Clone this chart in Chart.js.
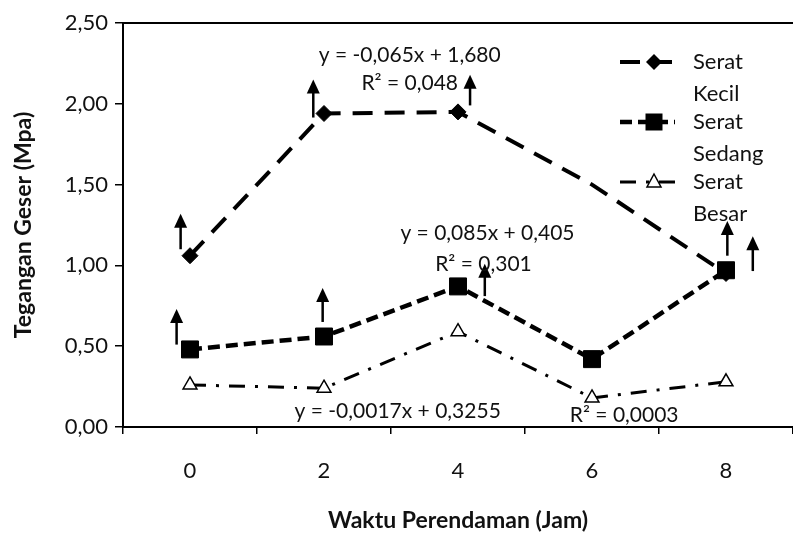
<!DOCTYPE html>
<html>
<head>
<meta charset="utf-8">
<script src="https://cdn.jsdelivr.net/npm/chart.js"></script>
<style>
  body { margin: 0; background: #fff; }
</style>
</head>
<body>
<canvas id="chart" width="793" height="537"></canvas>
<script>
// data
const waktu = ['0', '2', '4', '6', '8'];
const seratKecil = [1.06, 1.94, 1.95, 1.50, 0.95];
const seratSedang = [0.48, 0.56, 0.87, 0.42, 0.97];
const seratBesar = [0.26, 0.24, 0.59, 0.18, 0.28];
const yTickLabels = ['0,00', '0,50', '1,00', '1,50', '2,00', '2,50'];

const seriesNames = [['Serat', 'Kecil'], ['Serat', 'Sedang'], ['Serat', 'Besar']];

// trendline equations: [text, category position, value]
const trendTexts = [
  ['y = -0,065x + 1,680', 1.64, 2.30],
  ['R\u00b2 = 0,048', 1.64, 2.13],
  ['y = 0,085x + 0,405', 2.22, 1.20],
  ['R\u00b2 = 0,301', 2.19, 1.01],
  ['y = -0,0017x + 0,3255', 1.55, 0.10],
  ['R\u00b2 = 0,0003', 3.24, 0.07],
];

// hand drawn arrows: [category position, from value, tip value]
const arrows = [
  [-0.07, 1.10, 1.32],
  [0.92, 1.915, 2.15],
  [2.09, 1.99, 2.18],
  [-0.10, 0.51, 0.73],
  [0.99, 0.65, 0.86],
  [2.20, 0.81, 1.01],
  [4.01, 1.06, 1.275],
  [4.20, 0.965, 1.18],
];

Chart.defaults.font.family = 'Lato, "Open Sans", sans-serif';
Chart.defaults.color = '#111';

function drawMarker(ctx, style, x, y) {
  ctx.save();
  ctx.fillStyle = '#000';
  ctx.strokeStyle = '#000';
  ctx.lineWidth = 1.5;
  ctx.setLineDash([]);
  ctx.beginPath();
  if (style === 'rectRot') {
    ctx.moveTo(x - 8, y); ctx.lineTo(x, y - 8); ctx.lineTo(x + 8, y); ctx.lineTo(x, y + 8);
    ctx.closePath(); ctx.fill();
  } else if (style === 'rect') {
    ctx.rect(x - 8.5, y - 8.5, 17, 17); ctx.fill();
  } else {
    ctx.moveTo(x, y - 8); ctx.lineTo(x + 7, y + 5); ctx.lineTo(x - 7, y + 5);
    ctx.closePath(); ctx.fillStyle = '#fff'; ctx.fill(); ctx.stroke();
  }
  ctx.restore();
}

const extras = {
  id: 'extras',
  afterDatasetsDraw(chart) {
    const ctx = chart.ctx;
    const xs = chart.scales.x;
    const ys = chart.scales.y;
    const area = chart.chartArea;

    // top frame line
    ctx.save();
    ctx.strokeStyle = '#000';
    ctx.lineWidth = 2;
    ctx.beginPath();
    ctx.moveTo(area.left, area.top);
    ctx.lineTo(area.right, area.top);
    ctx.stroke();

    // arrows
    arrows.forEach(a => {
      const x = xs.getPixelForValue(a[0]);
      const y0 = ys.getPixelForValue(a[1]);
      const y1 = ys.getPixelForValue(a[2]);
      ctx.lineWidth = 2.5;
      ctx.beginPath();
      ctx.moveTo(x, y0);
      ctx.lineTo(x, y1 + 10);
      ctx.stroke();
      ctx.beginPath();
      ctx.moveTo(x, y1);
      ctx.lineTo(x + 6.5, y1 + 14);
      ctx.lineTo(x - 6.5, y1 + 14);
      ctx.closePath();
      ctx.fillStyle = '#000';
      ctx.fill();
    });

    // trendline equations
    ctx.font = '21px Lato, "Open Sans", sans-serif';
    ctx.fillStyle = '#111';
    ctx.textAlign = 'center';
    ctx.textBaseline = 'middle';
    trendTexts.forEach(t => {
      ctx.fillText(t[0], xs.getPixelForValue(t[1]), ys.getPixelForValue(t[2]));
    });
    ctx.restore();
  },
  afterDraw(chart) {
    const ctx = chart.ctx;
    const area = chart.chartArea;
    const lx = area.right - 173;
    const ly = area.top + 39;
    ctx.save();
    ctx.font = '22px Lato, "Open Sans", sans-serif';
    ctx.fillStyle = '#111';
    ctx.textBaseline = 'middle';
    chart.data.datasets.forEach((ds, i) => {
      const y = ly + i * 60;
      ctx.strokeStyle = '#000';
      ctx.lineWidth = ds.borderWidth;
      ctx.setLineDash(ds.borderDash);
      ctx.beginPath();
      ctx.moveTo(lx, y);
      ctx.lineTo(lx + 55, y);
      ctx.stroke();
      drawMarker(ctx, ds.pointStyle, lx + 34, y);
      seriesNames[i].forEach((line, j) => {
        ctx.fillText(line, lx + 73, y + j * 32);
      });
    });
    ctx.restore();
  }
};

new Chart(document.getElementById('chart'), {
  type: 'line',
  data: {
    labels: waktu,
    datasets: [
      {
        label: 'Serat Kecil',
        data: seratKecil,
        borderColor: '#000',
        borderWidth: 4,
        borderDash: [20, 12],
        pointStyle: 'rectRot',
        pointRadius: [8, 8, 8, 0, 8],
        pointBackgroundColor: '#000',
        pointBorderColor: '#000',
        pointBorderWidth: 1,
        tension: 0,
        order: 2,
      },
      {
        label: 'Serat Sedang',
        data: seratSedang,
        borderColor: '#000',
        borderWidth: 4.5,
        borderDash: [12, 6],
        pointStyle: 'rect',
        pointRadius: 12,
        pointBackgroundColor: '#000',
        pointBorderColor: '#000',
        pointBorderWidth: 1,
        tension: 0,
        order: 0,
      },
      {
        label: 'Serat Besar',
        data: seratBesar,
        borderColor: '#000',
        borderWidth: 3,
        borderDash: [16, 10, 3, 10],
        pointStyle: 'triangle',
        pointRadius: 8,
        pointBackgroundColor: '#fff',
        pointBorderColor: '#000',
        pointBorderWidth: 1.5,
        tension: 0,
        order: 1,
      },
    ],
  },
  options: {
    responsive: false,
    animation: false,
    layout: { autoPadding: false, padding: { top: 23, right: 0, bottom: 0, left: 0 } },
    plugins: {
      legend: { display: false },
      tooltip: { enabled: false },
    },
    scales: {
      x: {
        offset: true,
        grid: { display: true, offset: true, drawOnChartArea: false, color: '#000', tickLength: 7, lineWidth: 1.5 },
        border: { display: true, color: '#000', width: 2 },
        ticks: { font: { size: 22 }, color: '#111', padding: 24 },
        title: { display: true, text: 'Waktu Perendaman (Jam)', font: { size: 23, weight: 'bold' }, color: '#111', padding: { top: 0, bottom: 3 } },
        afterFit(scale) {
          scale.height = 110;
          scale.paddingLeft = 0;
          scale.paddingRight = 0;
        },
      },
      y: {
        min: 0,
        max: 2.5,
        ticks: {
          stepSize: 0.5,
          font: { size: 22 },
          color: '#111',
          padding: 7,
          callback: (v, i) => yTickLabels[i],
        },
        grid: { display: true, drawOnChartArea: false, color: '#000', tickLength: 8, lineWidth: 1.5 },
        border: { display: true, color: '#000', width: 2 },
        title: { display: true, text: 'Tegangan Geser (Mpa)', font: { size: 23, weight: 'bold' }, color: '#111', padding: { top: 10, bottom: 0 } },
        afterFit(scale) {
          scale.width = 123;
          scale.paddingTop = 0;
          scale.paddingBottom = 0;
        },
      },
    },
  },
  plugins: [extras],
});
</script>
</body>
</html>
